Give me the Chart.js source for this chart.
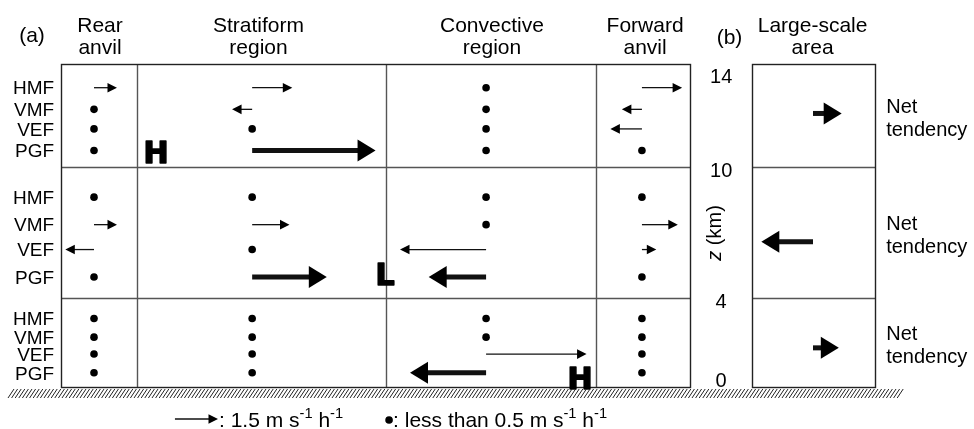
<!DOCTYPE html>
<html>
<head>
<meta charset="utf-8">
<script src="https://cdn.jsdelivr.net/npm/chart.js@4.4.0/dist/chart.umd.min.js"></script>
<style>
  html, body { margin: 0; background: #fff; }
  canvas { display: block; }
</style>
</head>
<body>
<canvas id="c" width="974" height="429"></canvas>
<script>
// forces listed top to bottom inside each layer
const forces = ['HMF', 'VMF', 'VEF', 'PGF'];
const zTicks = ['0', '4', '10', '14'];
const regionNames = [['Rear', 'anvil'], ['Stratiform', 'region'], ['Convective', 'region'], ['Forward', 'anvil']];

// tendencies in m s-1 h-1, layers lower / middle / upper, each [HMF, VMF, VEF, PGF]
// anything under 0.5 is drawn as a dot
const rearAnvil    = [[0, 0, 0, 0], [0, 0.8, -1.0, 0], [0.8, 0, 0, 0]];
const stratiform   = [[0, 0, 0, 0], [0, 1.3, 0, 2.6], [1.4, -0.7, 0, 4.3]];
const convective   = [[0, 0, 3.5, -2.65], [0, 0, -3.0, -2.0], [0, 0, 0, 0]];
const forwardAnvil = [[0, 0, 0, 0], [0, 1.25, 0.5, 0], [1.4, -0.7, -1.1, 0]];
const netTendency  = [0.9, -1.8, 1.0];
const legendArrow  = 1.5;
const dotLimit     = 0.5;

// layout (x in m s-1 h-1 so arrows keep their true length, y is schematic)
const regionEdges = [0, 2.65, 11.32, 18.64, 21.92];
const panelB = [24.08, 28.36];
const columnX = [1.15, 6.66, 14.81, 20.24];
const netX = 26.2;
const layerEdges = [0, 0.2755, 0.681, 1];
const rowFrac = [0.77, 0.56, 0.37, 0.16];
const netFrac = [0.44, 0.43, 0.52];
const pressure = [
  { t: 'H', x: 3.31, layer: 2, f: 0.15 },
  { t: 'L', x: 11.29, layer: 1, f: 0.18 },
  { t: 'H', x: 18.08, layer: 0, f: 0.10 }
];

const FONT = '"Liberation Sans", Arial, sans-serif';

function layerY(l, f) {
  return layerEdges[l] + f * (layerEdges[l + 1] - layerEdges[l]);
}

const dots = [];
const arrows = [];
[rearAnvil, stratiform, convective, forwardAnvil].forEach((reg, r) => {
  reg.forEach((layer, l) => {
    layer.forEach((v, i) => {
      const pt = { x: columnX[r], y: layerY(l, rowFrac[i]), v: v, thick: i === 3 };
      if (Math.abs(v) < dotLimit) dots.push(pt); else arrows.push(pt);
    });
  });
});
netTendency.forEach((v, l) => {
  arrows.push({ x: netX, y: layerY(l, netFrac[l]), v: v, thick: true });
});

function drawArrow(ctx, x0, y0, x1, thick) {
  const dir = Math.sign(x1 - x0);
  const headL = thick ? 18 : 9.5;
  const headW = thick ? 11 : 4.8;
  const lw = thick ? 5 : 1.3;
  ctx.save();
  ctx.strokeStyle = '#111';
  ctx.fillStyle = '#000';
  ctx.lineWidth = lw;
  ctx.beginPath();
  ctx.moveTo(x0, y0);
  ctx.lineTo(x1 - dir * headL * 0.8, y0);
  ctx.stroke();
  ctx.beginPath();
  ctx.moveTo(x1, y0);
  ctx.lineTo(x1 - dir * headL, y0 - headW);
  ctx.lineTo(x1 - dir * headL, y0 + headW);
  ctx.closePath();
  ctx.fill();
  ctx.restore();
}

function text(ctx, s, x, y, size, align, style) {
  ctx.font = (style || '') + ' ' + size + 'px ' + FONT;
  ctx.textAlign = align || 'center';
  ctx.textBaseline = 'alphabetic';
  ctx.fillText(s, x, y);
}

// text with superscript pieces, e.g. [['m s', 0], ['-1', 1]]
function richText(ctx, parts, x, y, size) {
  ctx.textAlign = 'left';
  ctx.textBaseline = 'alphabetic';
  parts.forEach(p => {
    const sz = p[1] ? size * 0.7 : size;
    ctx.font = sz + 'px ' + FONT;
    ctx.fillText(p[0], x, p[1] ? y - size * 0.42 : y);
    x += ctx.measureText(p[0]).width;
  });
}

const schematic = {
  id: 'schematic',
  beforeDatasetsDraw(chart) {
    const ctx = chart.ctx, xs = chart.scales.x, ys = chart.scales.y;
    const top = ys.getPixelForValue(1), bot = ys.getPixelForValue(0);
    ctx.save();
    ctx.lineWidth = 1.4;
    // inner lines
    ctx.strokeStyle = '#555';
    ctx.beginPath();
    regionEdges.slice(1, -1).forEach(e => {
      const px = Math.round(xs.getPixelForValue(e)) + 0.5;
      ctx.moveTo(px, top); ctx.lineTo(px, bot);
    });
    layerEdges.slice(1, -1).forEach(e => {
      const py = Math.round(ys.getPixelForValue(e)) + 0.5;
      ctx.moveTo(xs.getPixelForValue(regionEdges[0]), py);
      ctx.lineTo(xs.getPixelForValue(regionEdges[4]), py);
      ctx.moveTo(xs.getPixelForValue(panelB[0]), py);
      ctx.lineTo(xs.getPixelForValue(panelB[1]), py);
    });
    ctx.stroke();
    // outer boxes
    ctx.strokeStyle = '#222';
    [[regionEdges[0], regionEdges[4]], panelB].forEach(b => {
      const a = Math.round(xs.getPixelForValue(b[0])) + 0.5;
      const c = Math.round(xs.getPixelForValue(b[1])) + 0.5;
      ctx.strokeRect(a, Math.round(top) + 0.5, c - a, Math.round(bot) - Math.round(top));
    });
    ctx.restore();
  },
  afterDatasetsDraw(chart) {
    const ctx = chart.ctx, xs = chart.scales.x, ys = chart.scales.y;
    const top = ys.getPixelForValue(1), bot = ys.getPixelForValue(0);
    ctx.save();
    ctx.fillStyle = '#000';

    // arrows from the arrow dataset
    const meta = chart.getDatasetMeta(1);
    meta.data.forEach((el, i) => {
      const raw = chart.data.datasets[1].data[i];
      drawArrow(ctx, el.x, el.y, xs.getPixelForValue(raw.x + raw.v), raw.thick);
    });

    // H / L markers
    pressure.forEach(p => {
      const size = 30;
      const px = xs.getPixelForValue(p.x), py = ys.getPixelForValue(layerY(p.layer, p.f));
      ctx.font = 'bold ' + size + 'px "DejaVu Sans", sans-serif';
      ctx.textAlign = 'center';
      ctx.textBaseline = 'alphabetic';
      ctx.lineWidth = 1.6;
      ctx.lineJoin = 'round';
      ctx.strokeStyle = '#000';
      ctx.strokeText(p.t, px, py + size * 0.364);
      ctx.fillText(p.t, px, py + size * 0.364);
    });

    // force labels
    for (let l = 0; l < 3; l++) {
      forces.forEach((f, i) => {
        text(ctx, f, xs.getPixelForValue(-0.24), ys.getPixelForValue(layerY(l, rowFrac[i])) + 6.8, 19, 'right');
      });
    }

    // headers
    regionNames.forEach((n, r) => {
      const cx = xs.getPixelForValue((regionEdges[r] + regionEdges[r + 1]) / 2) - [-1, 3, -1, -2][r];
      text(ctx, n[0], cx, top - 32.5, 21);
      text(ctx, n[1], cx, top - 10.5, 21);
    });
    const bx = xs.getPixelForValue((panelB[0] + panelB[1]) / 2) - 1;
    text(ctx, 'Large-scale', bx, top - 32.5, 21);
    text(ctx, 'area', bx, top - 10.5, 21);
    text(ctx, '(a)', xs.getPixelForValue(-1.01), top - 22, 21);
    text(ctx, '(b)', xs.getPixelForValue(23.29), top - 20, 21);

    // z ticks
    const tx = xs.getPixelForValue(23.0);
    layerEdges.forEach((e, i) => {
      let py = ys.getPixelForValue(e) + 3;
      py = Math.min(Math.max(py, top + 12), bot - 7);
      text(ctx, zTicks[i], tx, py + 7, 20);
    });
    ctx.save();
    ctx.translate(xs.getPixelForValue(22.81), ys.getPixelForValue(0.477));
    ctx.rotate(-Math.PI / 2);
    ctx.textBaseline = 'middle';
    ctx.textAlign = 'left';
    ctx.font = 'italic 20px ' + FONT;
    const w1 = ctx.measureText('z').width;
    ctx.font = '20px ' + FONT;
    const w2 = ctx.measureText(' (km)').width;
    ctx.font = 'italic 20px ' + FONT;
    ctx.fillText('z', -(w1 + w2) / 2, 0);
    ctx.font = '20px ' + FONT;
    ctx.fillText(' (km)', -(w1 + w2) / 2 + w1, 0);
    ctx.restore();

    // net tendency labels
    for (let l = 0; l < 3; l++) {
      const mid = ys.getPixelForValue(layerY(l, 0.5));
      const x = xs.getPixelForValue(28.75);
      text(ctx, 'Net', x, mid - 3, 20, 'left');
      text(ctx, 'tendency', x, mid + 20, 20, 'left');
    }

    // ground hatch
    ctx.strokeStyle = '#222';
    ctx.lineWidth = 1;
    ctx.beginPath();
    const g0 = bot + 2, g1 = bot + 11;
    for (let x = 8; x <= 898; x += 3.6) {
      ctx.moveTo(x, g1);
      ctx.lineTo(x + 6, g0);
    }
    ctx.stroke();

    // legend
    const ly = bot + 32;
    const lx0 = xs.getPixelForValue(3.97);
    const lx1 = xs.getPixelForValue(3.97 + legendArrow);
    drawArrow(ctx, lx0, ly, lx1, false);
    richText(ctx, [[': 1.5 m s', 0], ['-1', 1], [' h', 0], ['-1', 1]], lx1 + 1, ly + 7.5, 21);
    const dx = xs.getPixelForValue(11.43);
    ctx.beginPath();
    ctx.arc(dx, ly + 1, 3.8, 0, Math.PI * 2);
    ctx.fill();
    richText(ctx, [[': less than 0.5 m s', 0], ['-1', 1], [' h', 0], ['-1', 1]], dx + 4, ly + 7.5, 21);

    ctx.restore();
  }
};

new Chart(document.getElementById('c'), {
  type: 'scatter',
  data: {
    datasets: [
      {
        label: 'small',
        data: dots,
        pointRadius: 3.8,
        pointStyle: 'circle',
        backgroundColor: '#000',
        borderWidth: 0
      },
      {
        label: 'tendency',
        data: arrows,
        pointRadius: 0
      }
    ]
  },
  options: {
    responsive: false,
    animation: false,
    devicePixelRatio: 1,
    layout: { padding: { left: 61, right: 99, top: 64, bottom: 42 } },
    plugins: { legend: { display: false }, tooltip: { enabled: false } },
    scales: {
      x: { type: 'linear', min: 0, max: 28.36, display: false },
      y: { type: 'linear', min: 0, max: 1, display: false }
    }
  },
  plugins: [schematic]
});
</script>
</body>
</html>
